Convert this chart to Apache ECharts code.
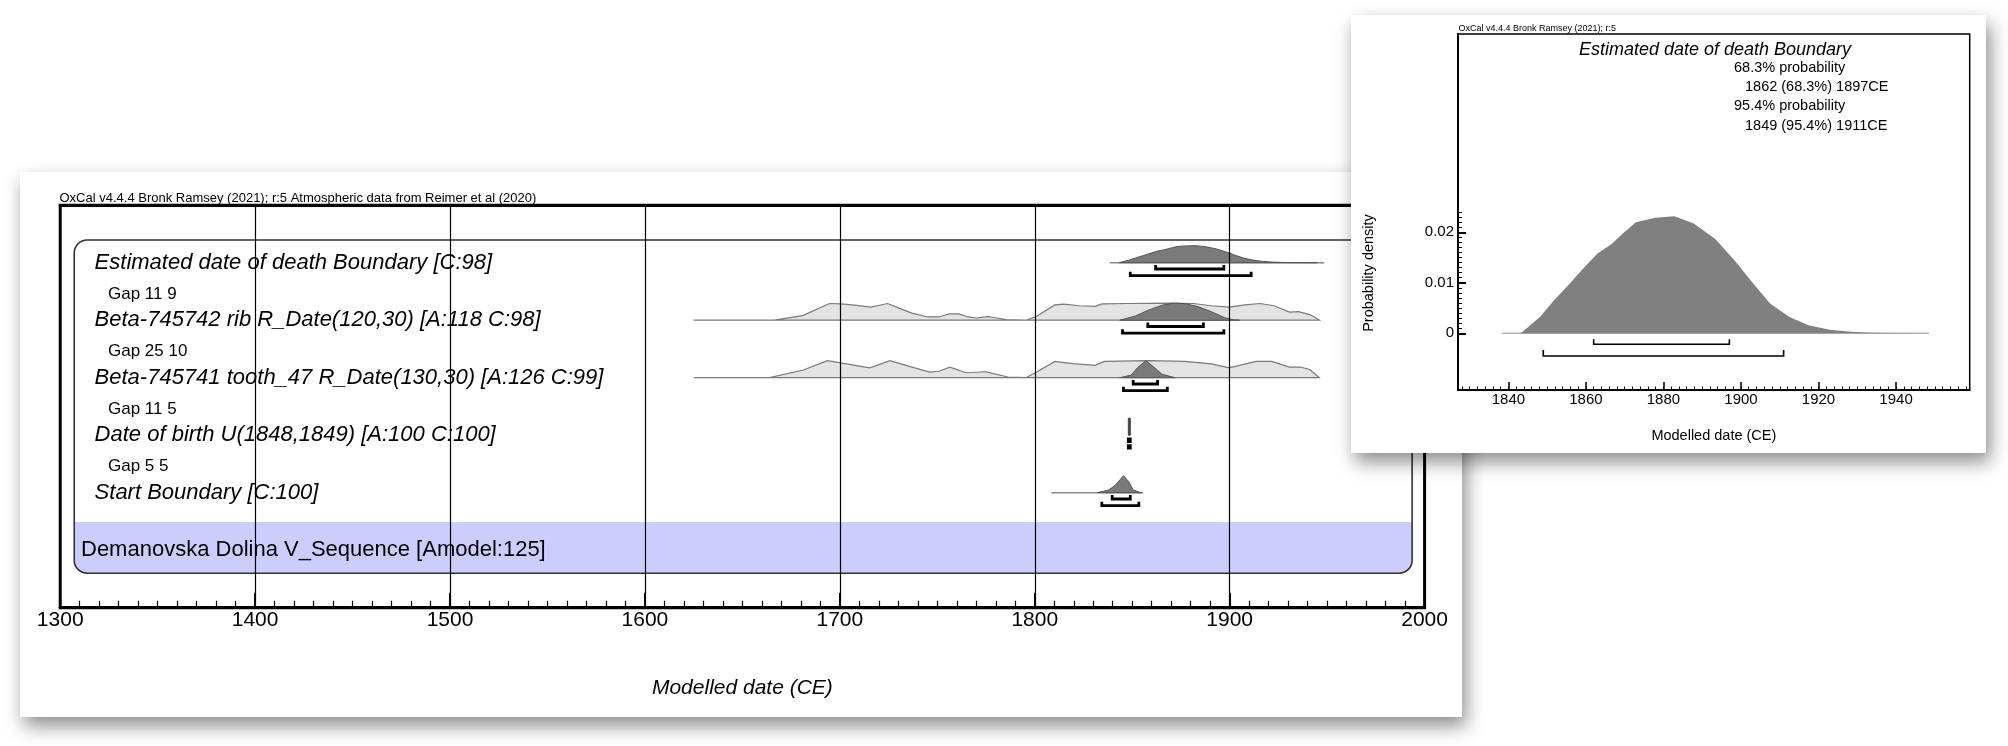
<!DOCTYPE html>
<html><head><meta charset="utf-8">
<script src="https://cdn.jsdelivr.net/npm/echarts@6/dist/echarts.min.js"></script>
<style>html,body{margin:0;padding:0;background:#fff}#c{width:2008px;height:746px}</style>
</head><body><div id="c"></div>
<script>
const FONT = '"Liberation Sans", Arial, Helvetica, sans-serif';

// ---------------- DATA ----------------
const mainCaption = 'OxCal v4.4.4 Bronk Ramsey (2021); r:5 Atmospheric data from Reimer et al (2020)';
const insetCaption = 'OxCal v4.4.4 Bronk Ramsey (2021); r:5';
const rowLabels = [
  'Estimated date of death Boundary [C:98]',
  'Beta-745742 rib R_Date(120,30) [A:118 C:98]',
  'Beta-745741 tooth_47 R_Date(130,30) [A:126 C:99]',
  'Date of birth U(1848,1849) [A:100 C:100]',
  'Start Boundary [C:100]'
];
const gapLabels = ['Gap 11 9', 'Gap 25 10', 'Gap 11 5', 'Gap 5 5'];
const sequenceLabel = 'Demanovska Dolina V_Sequence [Amodel:125]';
const mainAxisName = 'Modelled date (CE)';

// Estimated date of death Boundary (posterior, probability density)
const deathYears   = [1843.2, 1848.2, 1851.5, 1855.9, 1859.7, 1863, 1866.8, 1869, 1872.9, 1877.9, 1882.8, 1887.7, 1893.3, 1898.7, 1903.1, 1907.5, 1912.4, 1917.4, 1922.9, 1928.4, 1933.9, 1945];
const deathDensity = [0, 0.0033, 0.0063, 0.0099, 0.0132, 0.0158, 0.0178, 0.0194, 0.022, 0.0229, 0.0232, 0.0218, 0.0187, 0.0141, 0.0099, 0.0059, 0.0033, 0.0016, 0.0007, 0.0003, 0.0001, 0];
const deathSpan = [1838.4, 1948.5];

// Beta-745742 rib: unmodelled likelihood (relative) and posterior (relative)
const lik742Years = [1625, 1663.8, 1667, 1680.9, 1694.7, 1700.4, 1706.2, 1716, 1724.5, 1730.3, 1737, 1745, 1750.8, 1756.5, 1761, 1765.8, 1770.3, 1776, 1780.6, 1785.2, 1795.5, 1801, 1810.3, 1815, 1823, 1831, 1834.5, 1847, 1870, 1881.4, 1890.6, 1899.8, 1907.8, 1915.7, 1922.7, 1930.7, 1935.3, 1941, 1945, 1946];
const lik742Rel   = [0, 0, 0.02, 0.27, 0.98, 0.96, 0.9, 0.77, 0.98, 0.71, 0.42, 0.19, 0.19, 0.38, 0.37, 0.19, 0.13, 0.21, 0.13, 0.04, 0, 0.23, 0.9, 0.94, 0.85, 0.81, 0.96, 0.98, 1.0, 0.98, 0.85, 0.77, 0.9, 0.98, 0.85, 0.48, 0.5, 0.33, 0.08, 0];
const post742Years = [1843.6, 1851.7, 1858.5, 1865.3, 1871, 1876.8, 1883.7, 1890.6, 1897.4, 1902, 1905];
const post742Rel   = [0, 0.25, 0.6, 0.88, 1.0, 0.98, 0.8, 0.5, 0.15, 0.02, 0];

// Beta-745741 tooth_47
const lik741Years = [1625, 1663.8, 1680.9, 1693.6, 1700.4, 1715.4, 1725.7, 1737, 1746, 1750.8, 1756.5, 1764.6, 1774.9, 1778.3, 1786.3, 1795.5, 1801, 1810.3, 1819.7, 1831, 1835.6, 1858.5, 1876.8, 1890.6, 1899.8, 1913.5, 1921.5, 1930.7, 1936.4, 1941, 1945, 1946];
const lik741Rel   = [0, 0, 0.44, 1.0, 0.87, 0.58, 1.0, 0.62, 0.33, 0.38, 0.62, 0.29, 0.35, 0.25, 0.04, 0, 0.33, 0.96, 0.83, 0.73, 0.96, 1.0, 0.96, 0.81, 0.58, 0.96, 0.96, 0.62, 0.63, 0.48, 0.1, 0];
const post741Years = [1843.6, 1849.4, 1852.8, 1857, 1860.8, 1865.3, 1872];
const post741Rel   = [0, 0.15, 0.6, 1.0, 0.65, 0.2, 0];

// Date of birth U(1848,1849)
const birthYears = [1848, 1848, 1849, 1849];
const birthRel   = [0, 1, 1, 0];

// Start Boundary
const startYears = [1832.2, 1837.9, 1841.4, 1845.5, 1848.2, 1850.5, 1853.9, 1855];
const startRel   = [0, 0.16, 0.45, 1.0, 0.65, 0.16, 0.02, 0];
const startSpan  = [1808.5, 1855.6];

// Highest posterior density ranges per row
const ranges68 = [[1862, 1897], [1858, 1886.5], [1850.5, 1863], [1848, 1849], [1839.7, 1849]];
const ranges95 = [[1849, 1911], [1845, 1897], [1845.5, 1868], [1848, 1849], [1834.4, 1853.4]];

// Inset
const insetTitle = 'Estimated date of death Boundary';
const insetLines = ['68.3% probability', '1862 (68.3%) 1897CE', '95.4% probability', '1849 (95.4%) 1911CE'];
const insetXTicks = [1840, 1860, 1880, 1900, 1920, 1940];
const insetYTicks = [0, 0.01, 0.02];
const insetXName = 'Modelled date (CE)';
const insetYName = 'Probability density';

// ---------------- LAYOUT ----------------
const H = 0.296;              // max distribution height in row units
const OFF68 = 6.3, OFF95 = 13; // bracket offsets below baseline (px)

const chart = echarts.init(document.getElementById('c'), null, {renderer: 'canvas'});

function polySeries(years, vals, row, style, z, xi, yi) {
  const pts = years.map((y, i) => row === null ? [y, vals[i]] : [y, row - vals[i] * H]);
  return {
    type: 'custom', xAxisIndex: xi, yAxisIndex: yi, z, silent: true, clip: false,
    data: pts, encode: {x: 0, y: 1},
    renderItem(params, api) {
      if (params.dataIndex !== 0) return null;
      return {type: 'polygon', shape: {points: pts.map(p => api.coord(p))}, style};
    }
  };
}
function spanSeries(span, row, style, z, xi, yi) {
  return {
    type: 'custom', xAxisIndex: xi, yAxisIndex: yi, z, silent: true, clip: false,
    data: [[span[0], row], [span[1], row]], encode: {x: 0, y: 1},
    renderItem(params, api) {
      if (params.dataIndex !== 0) return null;
      const a = api.coord([span[0], row]), b = api.coord([span[1], row]);
      return {type: 'line', shape: {x1: a[0], y1: a[1], x2: b[0], y2: b[1]}, style};
    }
  };
}
function bracketSeries(items, lw, z, xi, yi) {
  return {
    type: 'custom', xAxisIndex: xi, yAxisIndex: yi, z, silent: true, clip: false,
    data: items.map(it => [it.lo, it.hi, it.y]), encode: {x: [0, 1], y: 2},
    renderItem(params, api) {
      const it = items[params.dataIndex];
      const a = api.coord([it.lo, it.y]), b = api.coord([it.hi, it.y]);
      const y = a[1] + it.off;
      return {type: 'polyline',
        shape: {points: [[a[0], y - it.tick], [a[0], y], [b[0], y], [b[0], y - it.tick]]},
        style: {stroke: '#000', lineWidth: lw, fill: null, lineJoin: 'miter', lineCap: 'butt'}};
    }
  };
}
function textSeries(labels, rowOf, dx, font, z) {
  return {
    type: 'custom', xAxisIndex: 0, yAxisIndex: 0, z, silent: true, clip: false,
    data: labels.map((t, i) => [1300, rowOf(i)]), encode: {x: 0, y: 1},
    renderItem(params, api) {
      const p = api.coord([api.value(0), api.value(1)]);
      return {type: 'text', x: p[0] + dx, y: p[1],
        style: {text: labels[params.dataIndex], font, fill: '#000', align: 'left', verticalAlign: 'middle'}};
    }
  };
}

const DARK = {fill: '#7a7a7a', stroke: '#555', lineWidth: 1};
const LIGHT = {fill: '#e3e3e3', stroke: '#7a7a7a', lineWidth: 1.2};
const deathMax = Math.max(...deathDensity);

const brMain = [];
ranges68.forEach((r, i) => brMain.push({lo: r[0], hi: r[1], y: i, off: OFF68, tick: 4}));
ranges95.forEach((r, i) => brMain.push({lo: r[0], hi: r[1], y: i, off: OFF95, tick: 4}));
const brInset = [
  {lo: ranges68[0][0], hi: ranges68[0][1], y: 0, off: 11, tick: 5},
  {lo: ranges95[0][0], hi: ranges95[0][1], y: 0, off: 22.7, tick: 6}
];

const minorX = []; for (let v = 1828; v <= 1958; v += 2) minorX.push(v);
const minorY = []; for (let k = 0; k <= 24; k++) minorY.push(+(k * 0.001).toFixed(3));
const plain = v => String(v);

const series = [
  // band + box
  {type: 'custom', xAxisIndex: 0, yAxisIndex: 0, z: 2, silent: true, clip: false,
   data: [[1307.2, 4.51], [1993.6, 5.4]], encode: {x: 0, y: 1},
   renderItem(params, api) {
     if (params.dataIndex !== 0) return null;
     const a = api.coord([1307.2, 4.51]), b = api.coord([1993.6, 5.4]);
     return {type: 'rect', shape: {x: a[0], y: a[1], width: b[0] - a[0], height: b[1] - a[1], r: [0, 0, 13, 13]},
       style: {fill: '#ccccfd'}};
   }},
  {type: 'custom', xAxisIndex: 0, yAxisIndex: 0, z: 3, silent: true, clip: false,
   data: [[1307.2, -0.395], [1993.6, 5.4]], encode: {x: 0, y: 1},
   renderItem(params, api) {
     if (params.dataIndex !== 0) return null;
     const a = api.coord([1307.2, -0.395]), b = api.coord([1993.6, 5.4]);
     return {type: 'rect', shape: {x: a[0], y: a[1], width: b[0] - a[0], height: b[1] - a[1], r: 13},
       style: {fill: null, stroke: '#333', lineWidth: 1.6}};
   }},
  textSeries(rowLabels, i => i, 34.4, 'italic 22px ' + FONT, 4),
  textSeries(gapLabels, i => i + 0.545, 47.8, '17px ' + FONT, 4),
  textSeries([sequenceLabel], i => 5, 20.8, '22px ' + FONT, 4),
  // distributions
  spanSeries(deathSpan, 0, {stroke: '#8a8a8a', lineWidth: 1.5}, 3, 0, 0),
  polySeries(deathYears, deathDensity.map(d => d / deathMax), 0, DARK, 3, 0, 0),
  polySeries(lik742Years, lik742Rel, 1, LIGHT, 3, 0, 0),
  polySeries(post742Years, post742Rel, 1, DARK, 3, 0, 0),
  polySeries(lik741Years, lik741Rel, 2, LIGHT, 3, 0, 0),
  polySeries(post741Years, post741Rel, 2, DARK, 3, 0, 0),
  polySeries(birthYears, birthRel, 3, {fill: '#444', stroke: '#444', lineWidth: 1}, 3, 0, 0),
  spanSeries(startSpan, 4, {stroke: '#8a8a8a', lineWidth: 1.5}, 3, 0, 0),
  polySeries(startYears, startRel, 4, DARK, 3, 0, 0),
  bracketSeries(brMain, 2.8, 4, 0, 0),
  // inset
  spanSeries(deathSpan, 0, {stroke: '#b0b0b0', lineWidth: 1.5}, 12, 1, 1),
  polySeries(deathYears, deathDensity, null, {fill: '#808080'}, 12, 1, 1),
  bracketSeries(brInset, 1.6, 12, 1, 1)
];

const T = (o) => Object.assign({type: 'text'}, o);
const txt = (text, x, y, font, align, z, extra) => T(Object.assign({z, x, y,
  style: {text, font, fill: '#000', align, textAlign: align, verticalAlign: 'middle', textVerticalAlign: 'middle'}}, extra || {}));

chart.setOption({
  animation: false,
  backgroundColor: '#fff',
  graphic: {elements: [
    {type: 'rect', z: 1, shape: {x: 20, y: 172, width: 1442, height: 545},
     style: {fill: '#fff', shadowBlur: 18, shadowOffsetX: 4, shadowOffsetY: 9, shadowColor: 'rgba(0,0,0,0.45)'}},
    txt(mainCaption, 59.5, 198.5, '13px ' + FONT, 'left', 4),
    {type: 'rect', z: 10, shape: {x: 1351, y: 15, width: 635, height: 438},
     style: {fill: '#fff', shadowBlur: 18, shadowOffsetX: 4, shadowOffsetY: 9, shadowColor: 'rgba(0,0,0,0.45)'}},
    txt(insetCaption, 1458.5, 29, '9px ' + FONT, 'left', 13),
    txt(insetTitle, 1715, 49.5, 'italic 18px ' + FONT, 'center', 13),
    txt(insetLines[0], 1734, 67.5, '14.5px ' + FONT, 'left', 13),
    txt(insetLines[1], 1745, 87, '14.5px ' + FONT, 'left', 13),
    txt(insetLines[2], 1734, 106, '14.5px ' + FONT, 'left', 13),
    txt(insetLines[3], 1745, 126, '14.5px ' + FONT, 'left', 13),
    txt(insetYName, 1369, 273, '14.5px ' + FONT, 'center', 13, {rotation: Math.PI / 2})
  ]},
  grid: [
    {left: 60.2, top: 205.2, width: 1364.4, height: 402.5, show: true, borderColor: '#000', borderWidth: 3, z: 5},
    {left: 1458, top: 34, width: 511.7, height: 356, show: true, borderColor: '#000', borderWidth: 1.5, z: 11}
  ],
  xAxis: [
    {gridIndex: 0, type: 'value', position: 'bottom', min: 1300, max: 2000, interval: 100, z: 5,
     axisLine: {onZero: false, lineStyle: {color: '#000', width: 3}},
     axisTick: {inside: true, length: 15, lineStyle: {color: '#000', width: 2}},
     minorTick: {show: true, splitNumber: 10, length: 7, lineStyle: {color: '#000', width: 1.2}},
     splitLine: {show: true, lineStyle: {color: '#000', width: 1.2}},
     axisLabel: {fontSize: 21, color: '#000', fontFamily: FONT, margin: 2, formatter: plain},
     name: mainAxisName, nameLocation: 'middle', nameGap: 70,
     nameTextStyle: {fontSize: 21, fontStyle: 'italic', color: '#000', fontFamily: FONT}},
    {gridIndex: 1, type: 'value', position: 'bottom', min: 1827, max: 1959, z: 11,
     axisLine: {onZero: false, lineStyle: {color: '#000', width: 2}},
     axisTick: {inside: true, length: 8, customValues: insetXTicks, lineStyle: {color: '#000', width: 1.5}},
     axisLabel: {customValues: insetXTicks, fontSize: 15, color: '#000', fontFamily: FONT, margin: 2, formatter: plain},
     splitLine: {show: false},
     name: insetXName, nameLocation: 'middle', nameGap: 38,
     nameTextStyle: {fontSize: 14.5, color: '#000', fontFamily: FONT}},
    {gridIndex: 1, type: 'value', position: 'bottom', min: 1827, max: 1959, z: 11,
     axisLine: {show: false, onZero: false},
     axisTick: {inside: true, length: 3.5, customValues: minorX, lineStyle: {color: '#000', width: 1}},
     axisLabel: {show: false}, splitLine: {show: false}},
    {gridIndex: 0, type: 'value', position: 'top', min: 1300, max: 2000, z: 5,
     axisLine: {onZero: false, lineStyle: {color: '#000', width: 3}}, axisTick: {show: false},
     minorTick: {show: false}, axisLabel: {show: false}, splitLine: {show: false}}
  ],
  yAxis: [
    {gridIndex: 0, type: 'value', inverse: true, min: -1, max: 6, show: false},
    {gridIndex: 1, type: 'value', position: 'left', min: -0.01123, max: 0.05927, z: 11,
     axisLine: {onZero: false, lineStyle: {color: '#000', width: 2}},
     axisTick: {inside: true, length: 8, customValues: insetYTicks, lineStyle: {color: '#000', width: 2}},
     axisLabel: {customValues: insetYTicks, fontSize: 15, color: '#000', fontFamily: FONT, margin: 4,
       formatter: v => (v === 0 ? '0' : String(+v.toFixed(3)))},
     splitLine: {show: false}},
    {gridIndex: 1, type: 'value', position: 'left', min: -0.01123, max: 0.05927, z: 11,
     axisLine: {show: false, onZero: false},
     axisTick: {inside: true, length: 4, customValues: minorY, lineStyle: {color: '#000', width: 1}},
     axisLabel: {show: false}, splitLine: {show: false}}
  ],
  series
});
</script></body></html>
